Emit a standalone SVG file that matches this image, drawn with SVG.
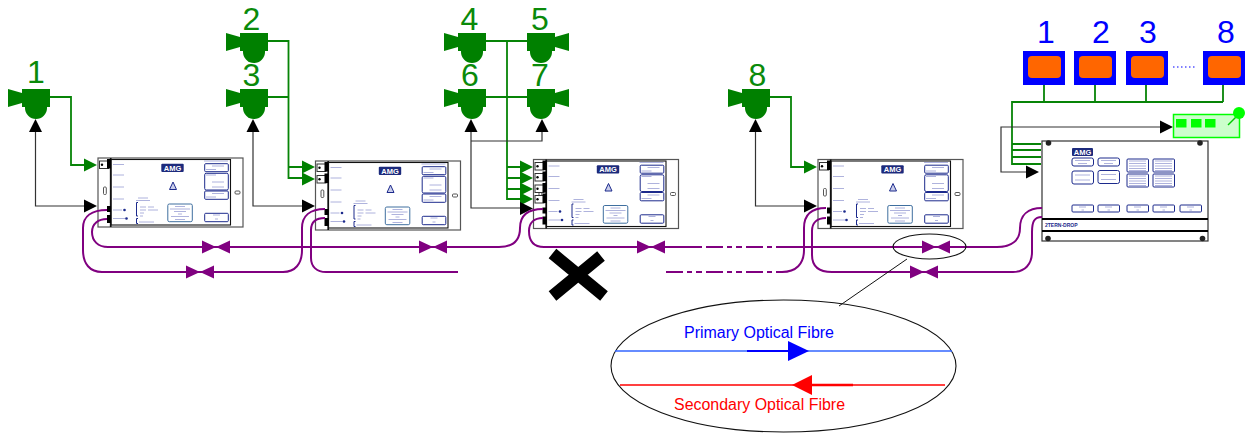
<svg xmlns="http://www.w3.org/2000/svg" xmlns:xlink="http://www.w3.org/1999/xlink" width="1246" height="433" viewBox="0 0 1246 433">
<style>
text{font-family:"Liberation Sans",Arial,sans-serif}
.num{font-size:32px;text-anchor:middle}
.g{fill:#008000}.gt{fill:#0a8a0a}
.bt{fill:#0000ff}
.gw{fill:none;stroke:#078407;stroke-width:1.8}
.kw{fill:none;stroke:#333;stroke-width:1.2}
.pw{fill:none;stroke:#800080;stroke-width:2}
.pd{stroke-dasharray:17 4 5 4 6 4}
.nv{fill:none;stroke:#1c2a8c;stroke-width:1}
.tiny{fill:none;stroke:#9a9fd4;stroke-width:.8}
.bb{fill:#0000ff}.or{fill:#ff6600}
.amg{font-size:7.500px;font-weight:bold;fill:#fff;text-anchor:middle}
</style>
<defs>
<g id="spk"><path class="g" d="M8 89L22 93V103L8 107Z"/><rect class="g" x="22" y="89" width="28" height="18"/><path class="g" d="M25 107V108A11 11 0 0 0 47 108V107Z"/></g>
<path id="ah" d="M-13 -6.500L0 0L-13 6.500Z"/>
<path id="bow" d="M-14 -6.500L0 0L-14 6.500ZM14 -6.500L0 0L14 6.500Z" fill="#800080"/>
<g id="port"><rect x="99.500" y="161" width="9" height="7.500" fill="#fff" stroke="#333" stroke-width="1"/><circle cx="102" cy="164.700" r="1.200"/><rect x="107" y="159" width="4" height="9.500"/></g>
<g id="panel">
<rect x="98" y="158" width="145" height="69" fill="#fff" stroke="#555" stroke-width="1.200"/>
<rect x="111" y="159.500" width="119.500" height="65.500" fill="#fff" stroke="#111" stroke-width="1.100"/>
<line x1="110.700" y1="158" x2="110.700" y2="227" stroke="#111" stroke-width="1.700"/>
<rect x="103.500" y="187" width="2.800" height="7.500" rx="1" fill="#fff" stroke="#555"/>
<rect x="235" y="191" width="5" height="3" rx="1" fill="#fff" stroke="#555"/>
<rect x="107" y="206" width="4" height="6"/><rect x="107" y="215" width="4" height="8"/>
<rect x="161.300" y="163.700" width="22.400" height="8.300" rx="1" fill="#1c2a7c"/>
<text class="amg" x="172.500" y="170.600">AMG</text>
<path d="M173 182L176.500 189.500H169.500Z" fill="#c9cdea" stroke="#1c2a8c"/>
<path class="tiny" d="M113 164.500H124M113 175H124M113 187H124M113 199H124M113 210H122M113 218.500H125M138 198H148M136 200.500H150M140 207H146M148 207H154M140 210H146M148 210H158M140 213H144M140 216H143M139 222H154M204 161H228"/>
<circle cx="124.500" cy="210" r="1.300" fill="#1c2a8c"/><circle cx="126.500" cy="218.500" r="1.300" fill="#1c2a8c"/>
<path class="nv" d="M138 202.500H136.500V216H138M138 218.500H136.500V223.500H138"/>
<rect x="167.800" y="204" width="24.500" height="17.700" rx="1.500" fill="#fff" stroke="#3f6f9f"/>
<path class="tiny" d="M175 206.500H185M170 209H190M174 211.500H186M178 214H182M171 216.500H189M175 219.500H185"/>
<rect class="nv" x="204.700" y="163.700" width="23.600" height="8" rx="1"/>
<rect class="nv" x="204.700" y="173.300" width="23.600" height="16.700" rx="1.500"/>
<rect class="nv" x="204.700" y="191" width="23.600" height="8.300" rx="1"/>
<rect class="nv" x="204.700" y="213.300" width="23.600" height="8.400" rx="1"/>
<path class="tiny" d="M212 166H224M206 169.500H216M206 175H216M212 182H224M212 187H224M212 193.500H224M206 197H216M213 215H220M215 219H218"/>
</g>
<g id="btn"><rect class="nv" x="0" y="0" width="21.500" height="7" rx="1" fill="#fff"/><path class="tiny" d="M7 2H14M9.500 5H12"/></g>
<g id="sb"><rect class="nv" x="0" y="0" width="21.500" height="8" rx="2" fill="#fff"/><path class="tiny" d="M3 2.500H18M6 5.500H15"/></g>
<g id="tb"><rect class="nv" x="0" y="0" width="21.500" height="13" rx="2" fill="#fff"/><path class="tiny" d="M3 4H18M3 9H18"/></g>
<g id="gb"><rect class="nv" x="0" y="0" width="21.500" height="13" rx="1" fill="#fff"/><path class="tiny" d="M2 2H19M2 4.500H19M2 7H19M2 9.500H19M2 11.500H19"/></g>
<circle id="screw" r="2.800" fill="#222"/>
<g id="bx"><rect class="bb" x="0" y="0" width="42" height="34"/><rect class="or" x="5" y="5" width="33" height="22" rx="4"/></g>
</defs>

<g id="panel-1"><use href="#panel"/><use href="#port"/></g>
<g id="panel-2" transform="translate(217.500 3)"><use href="#panel"/><use href="#port"/><use href="#port" y="11.500"/></g>
<g id="panel-3" transform="translate(435.500 1.500)"><use href="#panel"/><use href="#port"/><use href="#port" y="11"/><use href="#port" y="22.500"/><use href="#port" y="33"/></g>
<g id="panel-4" transform="translate(720 1.500)"><use href="#panel"/><use href="#port"/></g>

<g id="main-panel">
<rect x="1042" y="141" width="166" height="100" fill="#fff" stroke="#333" stroke-width="1.200"/>
<path d="M1042 219H1208M1042 231H1208" stroke="#000" stroke-width="2" fill="none"/>
<use href="#screw" x="1048.500" y="143"/><use href="#screw" x="1200" y="143"/><use href="#screw" x="1048" y="238.500"/><use href="#screw" x="1202.500" y="238.500"/>
<rect x="1072" y="148" width="21" height="8" rx="1" fill="#1c2a7c"/><text class="amg" x="1082.500" y="154.700">AMG</text>
<use href="#sb" x="1072" y="158"/><use href="#sb" x="1098" y="158"/>
<use href="#tb" x="1072" y="171"/><use href="#tb" x="1098" y="170.500"/>
<use href="#gb" x="1127" y="159"/><use href="#gb" x="1153" y="159"/><use href="#gb" x="1127" y="174"/><use href="#gb" x="1153" y="174"/>
<use href="#btn" x="1072" y="205"/><use href="#btn" x="1098" y="205"/><use href="#btn" x="1127" y="205"/><use href="#btn" x="1153" y="205"/><use href="#btn" x="1180" y="205"/>
<text x="1045" y="226.500" font-size="5" font-weight="bold" fill="#1c2a8c">2TERN-DROP</text>
</g>

<g id="connectors">
<g fill="#008000">
<path class="gw" d="M50 97H71V165H85"/><use href="#ah" x="97" y="165"/>
<path class="gw" d="M268 41H288.500V178H303M268 97H288.500M288.500 167H303"/><use href="#ah" x="315" y="167"/><use href="#ah" x="315" y="179"/>
<path class="gw" d="M486 41H528M486 97H528M507 41V199H521M507 167H521M507 178H521M507 189H521"/><use href="#ah" x="533" y="167"/><use href="#ah" x="533" y="178"/><use href="#ah" x="533" y="189"/><use href="#ah" x="533" y="199"/>
<path class="gw" d="M770 97H791V167H805"/><use href="#ah" x="817" y="167"/>
<path class="gw" d="M1044 85V102M1095 85V102M1146 85V102M1223 85V102M1223 102H1012V164H1041M1012 144H1041M1012 150H1041M1012 157H1041"/>
</g>
<path class="kw" d="M35.500 131V206H85M253 131V206H303M471 131V208H521M471 141H542V131M755.500 131V206H805M1160 127H1001V172H1027"/>
<use href="#ah" x="97" y="206"/><use href="#ah" x="315" y="206"/><use href="#ah" x="533" y="208.500"/><use href="#ah" x="817" y="206"/>
<use href="#ah" transform="translate(35.500 119) rotate(-90)"/><use href="#ah" transform="translate(253 119) rotate(-90)"/><use href="#ah" transform="translate(471 119) rotate(-90)"/><use href="#ah" transform="translate(542 119) rotate(-90)"/><use href="#ah" transform="translate(755.500 119) rotate(-90)"/>
<use href="#ah" x="1173" y="127"/><use href="#ah" x="1039" y="172"/>

<path class="pw" d="M107 210C92 210 83 216 83 228V250C83 264 90 272 102 272H283C295 272 302 264 302 250V228C302 216 310 209 325 209"/>
<path class="pw" d="M107 219C98 219 92 224 92 232C92 241 98 247 108 247H499C512 247 520 241 520 228C520 215 528 209 543 209"/>
<path class="pw" d="M325 218C316 218 311 222 311 230V258C311 267 317 272 326 272H458"/>
<path class="pw" d="M543 218C534 218 529 223 529 231C529 241 534 247 544 247H702"/>
<path class="pw pd" d="M706 247H777"/><path class="pw" d="M777 247H997C1012 247 1020 240 1020 228C1020 215 1028 208 1042 208"/>
<path class="pw pd" d="M666 272H782"/><path class="pw" d="M782 272C796 272 804 264 804 250V228C804 215 811 208 826 208"/>
<path class="pw" d="M826 218C817 218 812 223 812 231V255C812 266 819 272 832 272H1013C1025 272 1032 264 1032 252V232C1032 222 1034 217 1042 217"/>
<use href="#bow" x="216" y="247"/><use href="#bow" x="200" y="272"/><use href="#bow" x="433" y="247"/><use href="#bow" x="651" y="247"/><use href="#bow" x="936" y="247"/><use href="#bow" x="924" y="272"/>
<path d="M907 259L839 306" stroke="#111" fill="none"/>
</g>

<g id="speaker-1"><use href="#spk"/><text class="num gt" x="36" y="83">1</text></g>
<g id="speaker-2"><use href="#spk" transform="translate(218 -56)"/><text class="num gt" x="251.500" y="29.500">2</text></g>
<g id="speaker-3"><use href="#spk" transform="translate(218 0)"/><text class="num gt" x="251.500" y="85.500">3</text></g>
<g id="speaker-4"><use href="#spk" transform="translate(436 -56)"/><text class="num gt" x="469.500" y="29.500">4</text></g>
<g id="speaker-5"><use href="#spk" transform="translate(577 -56) scale(-1 1)"/><text class="num gt" x="540" y="29.500">5</text></g>
<g id="speaker-6"><use href="#spk" transform="translate(436 0)"/><text class="num gt" x="470" y="85.500">6</text></g>
<g id="speaker-7"><use href="#spk" transform="translate(577 0) scale(-1 1)"/><text class="num gt" x="540" y="85.500">7</text></g>
<g id="speaker-8"><use href="#spk" transform="translate(720 0)"/><text class="num gt" x="757.500" y="85.500">8</text></g>

<g id="box-1"><use href="#bx" x="1023" y="51"/><text class="num bt" x="1046" y="42.500">1</text></g>
<g id="box-2"><use href="#bx" x="1074" y="51"/><text class="num bt" x="1101" y="42.500">2</text></g>
<g id="box-3"><use href="#bx" x="1126" y="51"/><text class="num bt" x="1148" y="42.500">3</text></g>
<g id="box-8"><use href="#bx" x="1203" y="51"/><text class="num bt" x="1226" y="42.500">8</text></g>
<line x1="1173" y1="67" x2="1197" y2="67" stroke="#0000ff" stroke-width="1.200" stroke-dasharray="1.500 2.500"/>

<g id="strobe">
<rect x="1173.500" y="114.500" width="66" height="23" fill="#ccffcc" stroke="#00ff00" stroke-width="1.500"/>
<rect x="1176" y="119" width="10.500" height="8.500" fill="#00ff00"/><rect x="1191" y="119" width="10.500" height="8.500" fill="#00ff00"/><rect x="1205" y="119" width="10.500" height="8.500" fill="#00ff00"/>
<path d="M1228 125L1239 114" stroke="#00cc00" stroke-width="1.500"/><circle cx="1239" cy="113" r="6" fill="#00ff00"/>
</g>

<g id="cross"><path d="M552.500 253.500L604 296M601 256L552.500 296" stroke="#000" stroke-width="12" fill="none"/></g>

<g id="callout">
<ellipse cx="929.500" cy="246.500" rx="36.500" ry="12.500" fill="none" stroke="#111" stroke-width="1.100"/>
<ellipse cx="783.500" cy="366" rx="172.500" ry="66" fill="none" stroke="#111" stroke-width="1.100"/>
<text x="684" y="338" font-size="16" fill="#0000ff" textLength="150" lengthAdjust="spacingAndGlyphs">Primary Optical Fibre</text>
<path d="M615 351H952" stroke="#3366ff" stroke-width="1.500"/><path d="M747 351H790" stroke="#0000ff" stroke-width="2.200"/><path d="M788 341L809 351L788 361Z" fill="#0000ff"/>
<path d="M620 385H945" stroke="#ff0000" stroke-width="1.500"/><path d="M812 385H853" stroke="#ff0000" stroke-width="2.500"/><path d="M812 375L792 385L812 395Z" fill="#ff0000"/>
<text x="674" y="410" font-size="16" fill="#ff0000" textLength="171" lengthAdjust="spacingAndGlyphs">Secondary Optical Fibre</text>
</g>
</svg>
